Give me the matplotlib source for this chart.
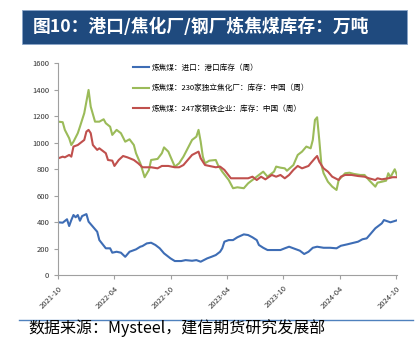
import matplotlib.pyplot as plt
import matplotlib.dates as mdates
import pandas as pd
from matplotlib.patches import Rectangle
from matplotlib.lines import Line2D

plt.rcParams['font.family'] = ['Noto Sans CJK SC', 'DejaVu Sans']

# weeks since 2021-10-01, values in 万吨
port_weeks = [0, 2, 4, 5, 6, 7, 8, 9, 10, 11, 13, 14, 16, 18, 19, 22, 24, 25, 27, 29, 31, 33, 36, 38, 39,
              41, 43, 45, 47, 49, 52, 54, 57, 59, 62, 64, 66, 69, 71, 73, 75, 76, 77, 79, 81, 83, 86, 88,
              90, 92, 93, 95, 97, 100, 103, 105, 107, 110, 112, 114, 116, 118, 120, 123, 126, 129, 131,
              134, 137, 139, 141, 143, 145, 147, 150, 151, 154, 157]
port_stock = [400, 397, 423, 372, 417, 455, 438, 455, 412, 447, 462, 405, 367, 329, 266, 204, 204, 171, 178,
              171, 140, 178, 196, 216, 221, 241, 246, 229, 204, 166, 128, 108, 108, 115, 110, 115, 103, 128,
              140, 153, 178, 204, 254, 266, 266, 287, 309, 304, 287, 266, 229, 208, 191, 191, 191, 204, 216,
              198, 186, 161, 178, 208, 216, 208, 208, 204, 223, 234, 246, 254, 272, 279, 317, 355, 392, 417,
              400, 415]

coker_weeks = [0, 2, 3, 5, 6, 7, 9, 10, 12, 14, 15, 17, 19, 21, 22, 24, 25, 27, 29, 31, 33, 35, 36, 38, 40,
               42, 43, 46, 48, 49, 51, 52, 54, 56, 58, 60, 62, 64, 65, 66, 67, 68, 70, 73, 74, 76, 79, 81,
               83, 86, 88, 90, 93, 95, 97, 100, 101, 103, 105, 106, 109, 111, 113, 115, 117, 118, 119, 120,
               121, 122, 123, 125, 127, 129, 130, 133, 135, 137, 140, 142, 144, 147, 148, 150, 152, 153, 154,
               156, 157]
coker_stock = [1159, 1155, 1097, 1034, 983, 1008, 1072, 1121, 1223, 1398, 1272, 1159, 1159, 1177, 1147,
               1121, 1059, 1097, 1072, 1008, 1026, 983, 921, 845, 740, 795, 870, 878, 921, 965, 933, 895,
               820, 845, 895, 958, 1021, 1046, 1097, 1008, 895, 845, 865, 870, 832, 782, 719, 657, 664, 657,
               694, 719, 757, 782, 744, 782, 820, 812, 807, 789, 832, 908, 933, 971, 958, 1021, 1172, 1192,
               1021, 832, 770, 706, 669, 644, 719, 770, 774, 765, 757, 757, 719, 669, 699, 706, 714, 770, 740,
               800, 757]

mill_weeks = [0, 2, 3, 5, 6, 7, 9, 12, 13, 14, 15, 16, 18, 19, 22, 23, 25, 26, 28, 30, 32, 35, 37, 39, 41,
              43, 46, 48, 51, 54, 56, 58, 60, 62, 65, 66, 68, 70, 73, 75, 77, 80, 83, 86, 88, 90, 92, 94,
              96, 99, 101, 103, 105, 107, 109, 111, 113, 116, 117, 119, 120, 121, 123, 125, 127, 130, 131,
              133, 136, 139, 142, 144, 147, 148, 150, 153, 155, 157]
mill_stock = [883, 895, 890, 908, 895, 971, 983, 1021, 1084, 1097, 1072, 983, 946, 958, 921, 870, 865, 825,
              870, 900, 890, 870, 845, 815, 815, 815, 807, 825, 825, 815, 815, 832, 870, 908, 933, 883, 832,
              825, 815, 820, 795, 732, 732, 732, 732, 744, 719, 744, 724, 757, 744, 757, 732, 757, 795, 825,
              807, 825, 845, 883, 900, 857, 807, 782, 744, 719, 744, 757, 757, 749, 744, 732, 719, 732, 724,
              732, 740, 740]

labels = ['炼焦煤：进口：港口库存（周）',
          '炼焦煤：230家独立焦化厂：库存：中国（周）',
          '炼焦煤：247家钢铁企业：库存：中国（周）']
colors = ['#3E6DB5', '#9BBB59', '#C0504D']

start = pd.Timestamp('2021-10-01')


def to_dates(weeks):
    return [start + pd.Timedelta(days=7 * w) for w in weeks]


fig = plt.figure(figsize=(4.2, 3.49), dpi=100)
ax = fig.add_axes([0.139, 0.211, 0.806, 0.608])

ax.plot(to_dates(port_weeks), port_stock, color=colors[0], lw=1.5, label=labels[0])
ax.plot(to_dates(coker_weeks), coker_stock, color=colors[1], lw=1.5, label=labels[1])
ax.plot(to_dates(mill_weeks), mill_stock, color=colors[2], lw=1.5, label=labels[2])

ax.set_ylim(0, 1600)
ax.set_yticks(range(0, 1601, 200))
ax.set_xlim(start, to_dates([157])[0])
ax.xaxis.set_major_locator(mdates.MonthLocator(bymonth=[4, 10]))
ax.xaxis.set_major_formatter(mdates.DateFormatter('%Y-%m'))

for s in ['top', 'right']:
    ax.spines[s].set_visible(False)
for s in ['left', 'bottom']:
    ax.spines[s].set_color('#a0a0a0')
    ax.spines[s].set_linewidth(0.8)
ax.tick_params(axis='both', colors='#a0a0a0', length=3, width=0.8, labelsize=5.5, labelcolor='#333333')
plt.setp(ax.get_xticklabels(), rotation=45, ha='right', rotation_mode='anchor')

ax.legend(loc='upper left', bbox_to_anchor=(0.2, 1.03), frameon=False, fontsize=5.5,
          handlelength=2.1, labelspacing=1.65, handletextpad=0.4)

# title bar
fig.patches.append(Rectangle((0.052, 0.873), 0.917, 0.099, transform=fig.transFigure,
                             facecolor='#1F4A7E', edgecolor='#8aa4c8', linewidth=0.6))
fig.text(0.079, 0.922, '图10：港口/焦化厂/钢厂炼焦煤库存：万吨', color='white',
         fontsize=12.8, fontweight='bold', va='center', ha='left')

# source line
fig.add_artist(Line2D([0.045, 0.983], [0.083, 0.083], transform=fig.transFigure,
                      color='#4F81BD', lw=1.0))
fig.text(0.067, 0.061, '数据来源：Mysteel，建信期货研究发展部', fontsize=11.5,
         va='center', ha='left', color='black', style='italic')

fig.savefig('out.png', dpi=100)
